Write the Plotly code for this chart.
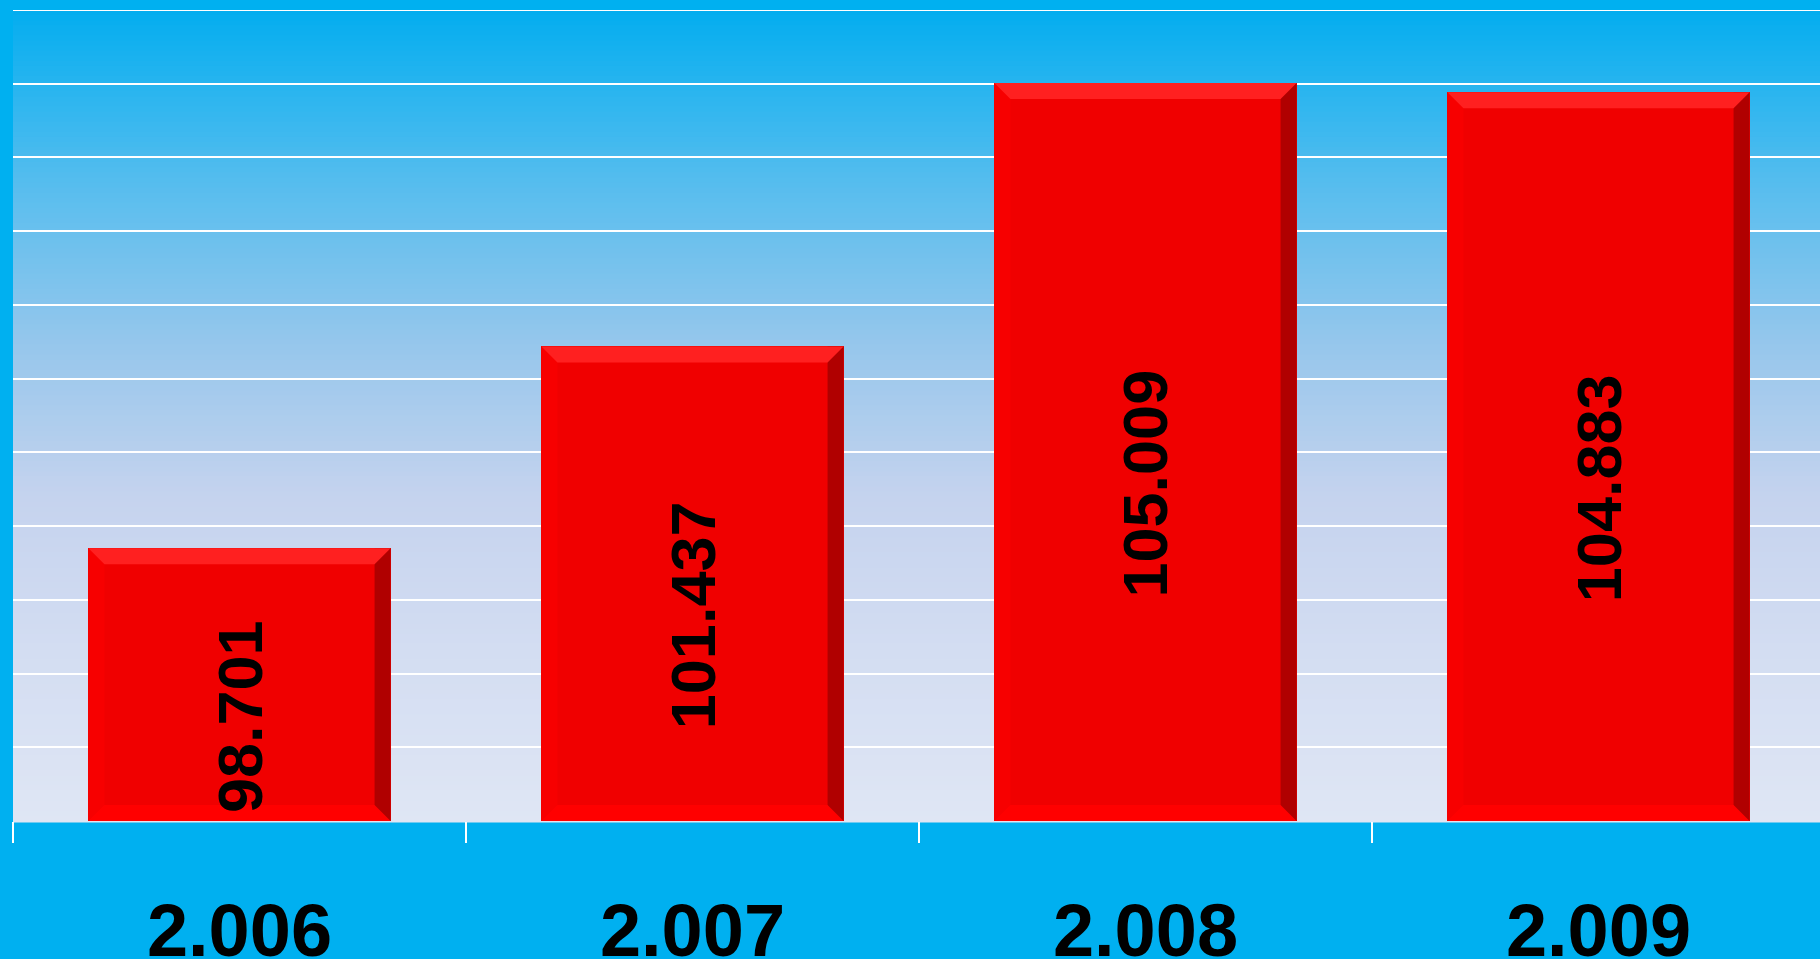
import plotly.graph_objects as go

# ---- data ----
years = ["2.006", "2.007", "2.008", "2.009"]
values = [98.701, 101.437, 105.009, 104.883]
value_labels = ["98.701", "101.437", "105.009", "104.883"]
y_min, y_max, y_step = 95, 106, 1

# ---- layout constants ----
W, H = 1820, 959
ML, MR, MT, MB = 13, 0, 10, 138
PLOT_W = W - ML - MR
CAT_PX = 453.0
BAR_W = 0.667
BEVEL = 16
LABEL_SHIFT = -32

PAPER = "#00B0F0"
FACE = "#F00000"
TOP_C = "#FF2020"
RIGHT_C = "#B00000"
BOTTOM_C = "#FF0000"
LEFT_C = "#F70000"

grad_stops = [
    (0.00, (3, 173, 239)),
    (0.10, (42, 181, 239)),
    (0.23, (92, 190, 238)),
    (0.42, (152, 199, 236)),
    (0.60, (197, 211, 238)),
    (0.79, (211, 221, 242)),
    (1.00, (223, 230, 244)),
]


def interp(t):
    for (t0, c0), (t1, c1) in zip(grad_stops[:-1], grad_stops[1:]):
        if t0 <= t <= t1:
            f = (t - t0) / (t1 - t0) if t1 > t0 else 0
            return "rgb(%d,%d,%d)" % tuple(round(a + (b - a) * f) for a, b in zip(c0, c1))
    return "rgb(%d,%d,%d)" % grad_stops[-1][1]


shapes = []
N = 160
for i in range(N):
    t = (i + 0.5) / N
    shapes.append(dict(
        type="rect", xref="x domain", yref="y domain",
        x0=0, x1=1, y0=1 - i / N, y1=1 - (i + 1) / N - 0.002,
        fillcolor=interp(t), line=dict(width=0), layer="below",
    ))

half = BAR_W * CAT_PX / 2.0
for idx, v in enumerate(values):
    # left & right strips (full height, data y)
    for x0, x1, col in ((-half, -half + BEVEL, LEFT_C), (half - BEVEL, half, RIGHT_C)):
        shapes.append(dict(
            type="rect", xref="x", yref="y", xsizemode="pixel", xanchor=idx,
            x0=x0, x1=x1, y0=y_min, y1=v, fillcolor=col, line=dict(width=0),
        ))
    # top trapezoid
    shapes.append(dict(
        type="path", xref="x", yref="y", xsizemode="pixel", ysizemode="pixel",
        xanchor=idx, yanchor=v,
        path="M %f,0 L %f,0 L %f,%f L %f,%f Z" % (-half, half, half - BEVEL, -BEVEL, -half + BEVEL, -BEVEL),
        fillcolor=TOP_C, line=dict(width=0),
    ))
    # bottom trapezoid
    shapes.append(dict(
        type="path", xref="x", yref="y", xsizemode="pixel", ysizemode="pixel",
        xanchor=idx, yanchor=y_min,
        path="M %f,0 L %f,0 L %f,%f L %f,%f Z" % (-half, half, half - BEVEL, BEVEL, -half + BEVEL, BEVEL),
        fillcolor=BOTTOM_C, line=dict(width=0),
    ))

# top gridline (at the upper edge of the plot area)
shapes.append(dict(type="line", xref="x domain", yref="y", x0=0, x1=1, y0=y_max, y1=y_max,
                   line=dict(color="white", width=2), layer="below"))

annotations = []
for idx, (v, lab) in enumerate(zip(values, value_labels)):
    annotations.append(dict(
        x=idx, y=(y_min + v) / 2.0, xref="x", yref="y", text=lab, showarrow=False,
        textangle=-90, yshift=LABEL_SHIFT, xanchor="center", yanchor="middle",
        font=dict(family="Liberation Sans, Arial", size=63, color="black", weight="bold"),
    ))

fig = go.Figure()
fig.add_trace(go.Bar(
    x=years, y=[v - y_min for v in values], base=y_min, width=BAR_W,
    marker=dict(color=FACE, line=dict(width=0)),
    hoverinfo="skip",
))

fig.update_layout(
    width=W, height=H,
    margin=dict(l=ML, r=MR, t=MT, b=MB, pad=0, autoexpand=False),
    paper_bgcolor=PAPER, plot_bgcolor="rgba(0,0,0,0)",
    showlegend=False, shapes=shapes, annotations=annotations, bargap=0,
    xaxis=dict(
        type="category", range=[-0.5, -0.5 + PLOT_W / CAT_PX], automargin=False,
        tickson="boundaries", ticks="outside", ticklen=21, tickwidth=1.5, tickcolor="white",
        showgrid=False, showline=False, zeroline=False, fixedrange=True,
        tickfont=dict(family="Liberation Sans, Arial", size=74, color="black", weight="bold"),
        ticklabelstandoff=60,
    ),
    yaxis=dict(
        range=[y_min, y_max], dtick=y_step, tick0=y_min, showticklabels=False, automargin=False,
        showgrid=True, gridcolor="white", gridwidth=1.6, zeroline=False, showline=False,
        ticks="", fixedrange=True,
    ),
)

fig.write_html(
    "out.html",
    config={"displayModeBar": False},
    post_script="document.body.style.margin='0';document.body.style.overflow='hidden';",
)
